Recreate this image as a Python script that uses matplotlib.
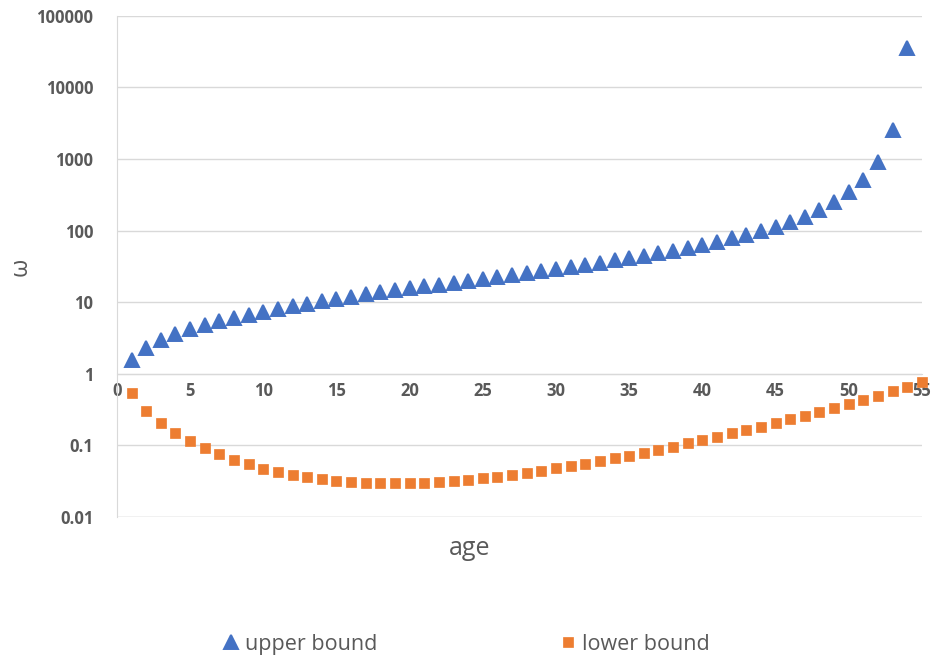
import matplotlib.pyplot as plt
from matplotlib.ticker import FixedLocator, FixedFormatter

plt.rcParams["font.family"] = ["Open Sans", "DejaVu Sans"]

# age for each bound
age_upper = list(range(1, 55))
age_lower = list(range(1, 56))

upper = [1.57, 2.3, 3.0, 3.6, 4.2, 4.8, 5.4, 6.0, 6.7, 7.4,
         8.1, 8.8, 9.6, 10.4, 11.2, 12.0, 12.9, 13.8, 14.8, 15.8,
         16.6, 17.5, 18.7, 19.9, 21.2, 22.6, 24.1, 25.7, 27.4, 29.2,
         31.1, 33.2, 35.4, 38.5, 41.5, 44.5, 48.5, 52.5, 58, 63,
         70, 78, 87, 99, 113, 133, 156, 195, 252, 348,
         510, 910, 2560, 35500]

lower = [0.543, 0.304, 0.207, 0.150, 0.116, 0.0925, 0.0763, 0.063, 0.0553, 0.0471,
         0.0428, 0.0389, 0.0363, 0.0335, 0.0322, 0.031, 0.0302, 0.0298, 0.0295, 0.0296,
         0.0298, 0.0305, 0.0315, 0.033, 0.035, 0.0365, 0.039, 0.0413, 0.044, 0.0485,
         0.052, 0.0555, 0.061, 0.067, 0.072, 0.079, 0.087, 0.096, 0.109, 0.120,
         0.132, 0.150, 0.165, 0.182, 0.207, 0.235, 0.259, 0.294, 0.335, 0.381,
         0.433, 0.493, 0.579, 0.66, 0.77]

y_ticks = [0.01, 0.1, 1, 10, 100, 1000, 10000, 100000]
y_labels = ["0.01", "0.1", "1", "10", "100", "1000", "10000", "100000"]
x_ticks = list(range(0, 56, 5))

blue = "#4472C4"
orange = "#ED7D31"
grey = "#595959"

fig = plt.figure(figsize=(9.35, 6.62), dpi=100)
ax = fig.add_axes([0.125, 0.219, 0.861, 0.757])

ax.plot(age_upper, upper, linestyle="none", marker="^", markersize=9.5,
        color=blue, markeredgecolor=blue, markeredgewidth=1.4,
        label="upper bound", clip_on=False)
ax.plot(age_lower, lower, linestyle="none", marker="s", markersize=7,
        color=orange, markeredgecolor=orange, markeredgewidth=0.5,
        label="lower bound", clip_on=False)

ax.set_yscale("log")
ax.set_ylim(0.01, 100000)
ax.set_xlim(0, 55)
ax.yaxis.set_major_locator(FixedLocator(y_ticks))
ax.yaxis.set_major_formatter(FixedFormatter(y_labels))
ax.yaxis.set_minor_locator(FixedLocator([]))
ax.set_xticks(x_ticks)

# horizontal axis crosses at y = 1
for side in ["top", "right"]:
    ax.spines[side].set_visible(False)
ax.spines["bottom"].set_position(("data", 1))
ax.spines["bottom"].set_color("#D9D9D9")
ax.spines["left"].set_color("#D9D9D9")
ax.grid(axis="y", color="#D9D9D9", linewidth=1)
ax.set_axisbelow(True)
ax.axhline(0.01, color="#D9D9D9", linewidth=1, zorder=0)

ax.tick_params(length=0, labelsize=12, labelcolor=grey)
ax.tick_params(axis="y", pad=17)
ax.tick_params(axis="x", pad=6)
for lab in ax.get_xticklabels() + ax.get_yticklabels():
    lab.set_fontweight("bold")

fig.text(0.502, 0.172, "age", ha="center", va="center", fontsize=18, color=grey)
fig.text(0.022, 0.597, "ω", ha="center", va="center", fontsize=17,
         color=grey, rotation=90)

fig.legend(loc="center", bbox_to_anchor=(0.497, 0.027), ncol=2, frameon=False,
           fontsize=15.5, labelcolor=grey, columnspacing=8.3, handletextpad=0.1,
           handlelength=1.1)

fig.savefig("out.png", dpi=100)
